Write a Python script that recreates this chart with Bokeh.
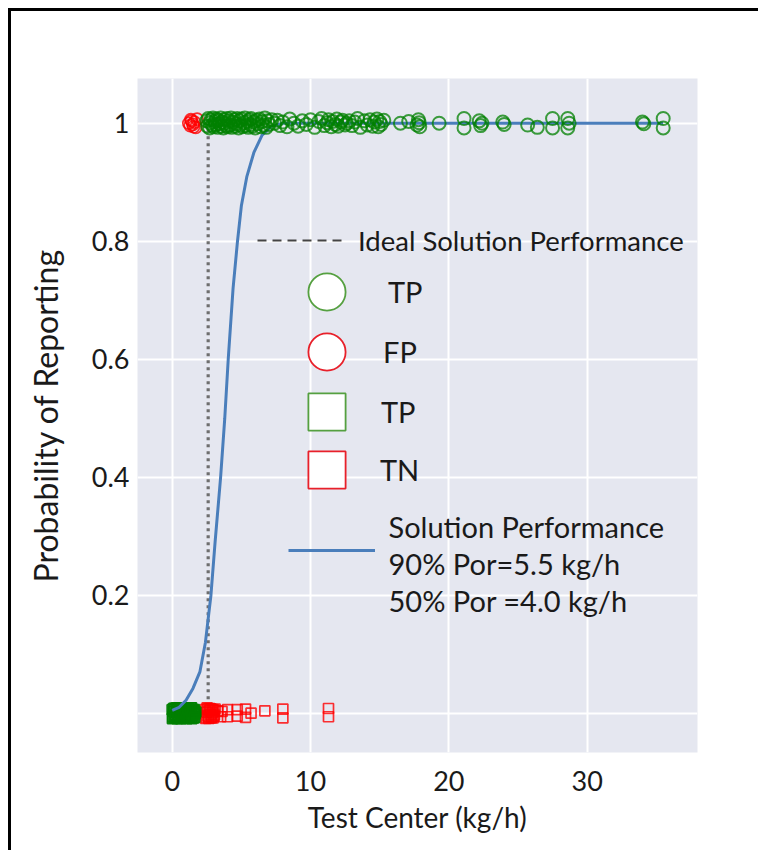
from bokeh.plotting import figure
from bokeh.models import (ColumnDataSource, Legend, LegendItem, Label,
                          FixedTicker, Range1d)
from bokeh.embed import file_html
from bokeh.resources import INLINE

# ---------------- data ----------------
# True positives (reported, y = 1), open green circles
tp_top_x = [2.5, 2.55, 2.6, 2.7, 2.75, 2.8, 2.9, 2.95, 3.0, 3.1,
            3.15, 3.2, 3.3, 3.35, 3.4, 3.5, 3.55, 3.6, 3.7, 3.75,
            3.8, 3.9, 3.95, 4.0, 4.1, 4.2, 4.25, 4.3, 4.4, 4.5,
            4.55, 4.6, 4.7, 4.8, 4.85, 4.9, 5.0, 5.1, 5.2, 5.25,
            5.3, 5.4, 5.5, 5.6, 5.65, 5.7, 5.8, 5.9, 6.0, 6.1,
            6.2, 6.3, 6.4, 6.5, 6.6, 6.7, 6.8, 6.9, 7.0, 7.2, 7.4,
            7.6, 7.8, 8.0, 8.3, 8.5, 8.8, 9.1, 9.4, 9.7, 10.0,
            10.3, 10.6, 10.8, 11.0, 11.2, 11.3, 11.5, 11.6, 11.8, 11.9,
            12.0, 12.2, 12.3, 12.5, 12.6, 12.8, 13.0, 13.2, 13.4, 13.6,
            13.9, 14.1, 14.3, 14.5, 14.6, 14.8, 14.9, 15.0, 15.1, 15.3,
            16.5, 17.1, 17.7, 17.8, 17.9, 17.85, 19.3, 21.1, 21.1, 22.2,
            22.3, 22.4, 23.9, 24.0, 25.7, 26.4, 27.5, 27.5, 28.6, 28.6,
            28.7, 34.0, 34.1, 35.5, 35.5]
tp_top_y = [1.004, 0.995, 1.008, 0.992, 1.001, 1.006, 0.997, 1.009, 0.994, 1.003,
            0.998, 1.007, 0.993, 1.005, 0.999, 1.009, 0.995, 1.002, 0.992, 1.006,
            1.0, 0.996, 1.008, 0.994, 1.004, 0.997, 1.009, 0.993, 1.002, 1.006,
            0.995, 0.999, 1.008, 0.992, 1.004, 0.997, 1.007, 0.994, 1.001, 1.009,
            0.996, 1.003, 0.993, 1.006, 0.998, 1.008, 0.995, 1.002, 0.992, 1.005,
            0.999, 1.007, 0.994, 1.003, 0.997, 1.009, 0.993, 1.004, 0.998, 1.006, 1.0,
            1.005, 0.996, 1.002, 0.994, 1.007, 1.0, 0.995, 1.004, 0.998, 1.006,
            0.993, 1.003, 1.008, 0.996, 1.001, 1.006, 0.994, 1.003, 0.998, 1.007,
            0.995, 1.002, 1.005, 0.997, 1.0, 1.004, 0.996, 1.002, 1.008, 0.993,
            1.004, 0.997, 1.006, 0.995, 1.002, 1.007, 0.994, 1.003, 0.998, 1.005,
            1.0, 1.003, 0.997, 1.006, 0.994, 1.001, 1.0, 1.008, 0.992, 1.004,
            0.996, 1.0, 1.002, 0.998, 0.997, 0.993, 1.008, 0.992, 1.008, 0.992,
            1.0, 1.002, 0.999, 1.008, 0.992]

# False positives (reported, y = 1), open red circles
fp_top_x = [1.2, 1.3, 1.4, 1.5, 1.6, 1.7, 1.8, 1.35, 1.55]
fp_top_y = [1.0, 0.996, 1.004, 0.998, 1.002, 0.993, 1.007, 1.006, 0.994]

# Not reported, y = 0: green squares (TP) and red squares (TN)
tp_bot_x = [0.0, 0.05, 0.1, 0.15, 0.2, 0.25, 0.3, 0.35, 0.4, 0.45,
            0.5, 0.55, 0.6, 0.65, 0.7, 0.75, 0.8, 0.85, 0.9, 0.95,
            1.0, 1.05, 1.1, 1.15, 1.2, 1.25, 1.3, 1.35, 1.4, 1.45,
            1.5, 1.55, 1.6, 1.65, 1.7,
            0.02, 0.12, 0.22, 0.32, 0.42, 0.52, 0.62, 0.72, 0.82, 0.92,
            1.02, 1.12, 1.22, 1.32, 1.42, 1.52, 1.62]
tp_bot_y = [0.006, -0.006, 0.003, -0.008, 0.008, -0.003, 0.001, -0.009, 0.007, -0.004,
            0.009, -0.007, 0.004, -0.005, 0.006, -0.008, 0.002, -0.002, 0.008, -0.006,
            0.005, -0.009, 0.003, -0.004, 0.007, -0.007, 0.001, -0.003, 0.009, -0.005,
            0.004, -0.008, 0.006, -0.001, 0.002,
            -0.009, 0.008, -0.005, 0.009, -0.007, 0.006, -0.009, 0.008, -0.004, 0.009,
            -0.008, 0.007, -0.006, 0.009, -0.009, 0.005, -0.007]
tn_bot_x = [2.4, 2.45, 2.5, 2.55, 2.6, 2.65, 2.7, 2.75, 2.8, 2.85,
            2.9, 2.95, 3.0, 3.05, 3.1, 2.42, 2.52, 2.62, 2.72, 2.82,
            2.92, 3.02, 3.3, 3.5, 3.6, 4.0, 4.0, 4.7, 4.7, 5.3,
            5.3, 5.7, 6.7, 8.0, 8.0, 11.3, 11.3]
tn_bot_y = [0.006, -0.007, 0.002, -0.004, 0.008, -0.009, 0.004, -0.002, 0.007, -0.006,
            0.001, -0.008, 0.005, -0.003, 0.007, -0.009, 0.009, -0.006, 0.008, -0.008,
            0.006, -0.005, 0.004, -0.006, 0.003, 0.006, -0.006, 0.006, -0.005, 0.007,
            -0.007, 0.0, 0.004, 0.007, -0.008, 0.008, -0.006]

# Fitted solution performance curve
curve_x = [0.0, 0.5, 1.0, 1.5, 2.0, 2.4, 2.8, 3.1, 3.5, 3.8, 4.05, 4.4, 4.72, 5.0, 5.4, 5.9,
           6.5, 7.2, 8.0, 12.0, 20.0, 28.0, 35.5]
curve_y = [0.005, 0.01, 0.022, 0.042, 0.07, 0.12, 0.2, 0.29, 0.4, 0.5, 0.6, 0.72, 0.8, 0.86,
           0.91, 0.95, 0.98, 0.995, 1.0, 1.0, 1.0, 1.0, 1.0]

# Ideal solution performance (step at the threshold)
ideal_x = [2.6, 2.6]
ideal_y = [0.0, 1.0]

x_ticks = [0, 10, 20, 30]
y_ticks = [0.2, 0.4, 0.6, 0.8, 1.0]
y_grid = [0.0, 0.2, 0.4, 0.6, 0.8, 1.0]
y_labels = {0.2: "0.2", 0.4: "0.4", 0.6: "0.6", 0.8: "0.8", 1.0: "1"}

legend_text = "Ideal Solution Performance"
marker_labels = ["TP", "FP", "TP", "TN"]
solution_text = "Solution Performance\n90% Por=5.5 kg/h\n50% Por =4.0 kg/h"

FONT = "Lato"
BG = "#e5e7f0"
GREEN = "green"
RED = "red"
BLUE = "#4a7ebb"
TXT = "#1a1a1a"
NAN = float("nan")

# ---------------- figure ----------------
p = figure(width=750, height=842, output_backend="svg", toolbar_location=None,
           x_range=Range1d(-2.51, 37.98), y_range=Range1d(-0.0666, 1.0758),
           min_border_left=126, min_border_right=64, min_border_top=67, min_border_bottom=101)
p.styles = {"margin-left": "8px", "margin-top": "8px",
            "border-left": "3px solid black", "border-top": "3px solid black"}
p.background_fill_color = BG
p.border_fill_color = "white"
p.outline_line_color = None

p.xgrid.ticker = FixedTicker(ticks=x_ticks)
p.ygrid.ticker = FixedTicker(ticks=y_grid)
p.grid.grid_line_color = "white"
p.grid.grid_line_width = 2

p.xaxis.ticker = FixedTicker(ticks=x_ticks)
p.yaxis.ticker = FixedTicker(ticks=y_ticks)
p.yaxis.major_label_overrides = y_labels
for ax in (p.xaxis[0], p.yaxis[0]):
    ax.axis_line_color = None
    ax.major_tick_line_color = None
    ax.minor_tick_line_color = None
    ax.major_label_text_font = FONT
    ax.major_label_text_font_size = "27px"
    ax.major_label_text_color = TXT
    ax.axis_label_text_font = FONT
    ax.axis_label_text_font_style = "normal"
    ax.axis_label_text_color = TXT
p.xaxis.axis_label = "Test Center (kg/h)"
p.yaxis.axis_label = "Probability of Reporting"
p.xaxis.axis_label_text_font_size = "28px"
p.yaxis.axis_label_text_font_size = "32px"
p.xaxis.major_label_standoff = 12
p.xaxis.axis_label_standoff = 6
p.yaxis.major_label_standoff = 2
p.yaxis.axis_label_standoff = 24

# ---------------- data glyphs ----------------
p.line(ideal_x, ideal_y, line_color="#6e6e6e", line_width=3.2, line_dash="3 4")
p.scatter(tn_bot_x, tn_bot_y, marker="square", size=10, fill_color=None,
          line_color=RED, line_alpha=0.8, line_width=1.7)
p.scatter(tp_bot_x, tp_bot_y, marker="square", size=10, fill_color=None,
          line_color=GREEN, line_alpha=0.95, line_width=1.8)
p.line(curve_x, curve_y, line_color=BLUE, line_width=3)
p.scatter(fp_top_x, fp_top_y, marker="circle", size=12, fill_color=None,
          line_color=RED, line_alpha=0.8, line_width=1.7)
p.scatter(tp_top_x, tp_top_y, marker="circle", size=13, fill_color=None,
          line_color=GREEN, line_alpha=0.75, line_width=2)

# ---------------- legend proxies (no visible data) ----------------
def proxy():
    return ColumnDataSource(dict(x=[NAN], y=[NAN]))


r_dash = p.line("x", "y", source=proxy(), line_color="#444444",
                line_width=2, line_dash="9 6")
r_tp_c = p.scatter("x", "y", source=proxy(), marker="circle",
                   fill_color="white", line_color="#55a040", line_width=1.8)
r_fp_c = p.scatter("x", "y", source=proxy(), marker="circle",
                   fill_color="white", line_color="#e8202a", line_width=1.8)
r_tp_s = p.scatter("x", "y", source=proxy(), marker="square",
                   fill_color="white", line_color="#55a040", line_width=1.8)
r_tn_s = p.scatter("x", "y", source=proxy(), marker="square",
                   fill_color="white", line_color="#e8202a", line_width=1.8)
r_blue = p.line("x", "y", source=proxy(), line_color=BLUE, line_width=3)


def make_legend(label, renderer, loc, gw, gh, standoff, size="29px"):
    return Legend(items=[LegendItem(label=label, renderers=[renderer])],
                  location=loc, glyph_width=gw, glyph_height=gh,
                  label_standoff=standoff, spacing=0, padding=0, margin=0,
                  border_line_color=None, background_fill_alpha=0,
                  label_text_font=FONT, label_text_font_size=size,
                  label_text_color=TXT)


legends = [
    make_legend(legend_text, r_dash, (120, 492), 85, 40, 16, "27.5px"),
    make_legend(marker_labels[0], r_tp_c, (143, 414), 93, 93, 15),
    make_legend(marker_labels[1], r_fp_c, (143, 354), 93, 93, 10),
    make_legend(marker_labels[2], r_tp_s, (143, 294), 93, 93, 8),
    make_legend(marker_labels[3], r_tn_s, (143, 236), 93, 93, 7),
    make_legend(" ", r_blue, (151, 182), 87, 40, 0),
]
for lg in legends:
    p.add_layout(lg, "center")

p.add_layout(Label(x=251, y=244, x_units="screen", y_units="screen", text=solution_text,
                   text_font=FONT, text_font_size="29px", text_color=TXT,
                   text_baseline="top", text_align="left", text_line_height=1.06))

open("out.html", "w").write(file_html(p, INLINE))
